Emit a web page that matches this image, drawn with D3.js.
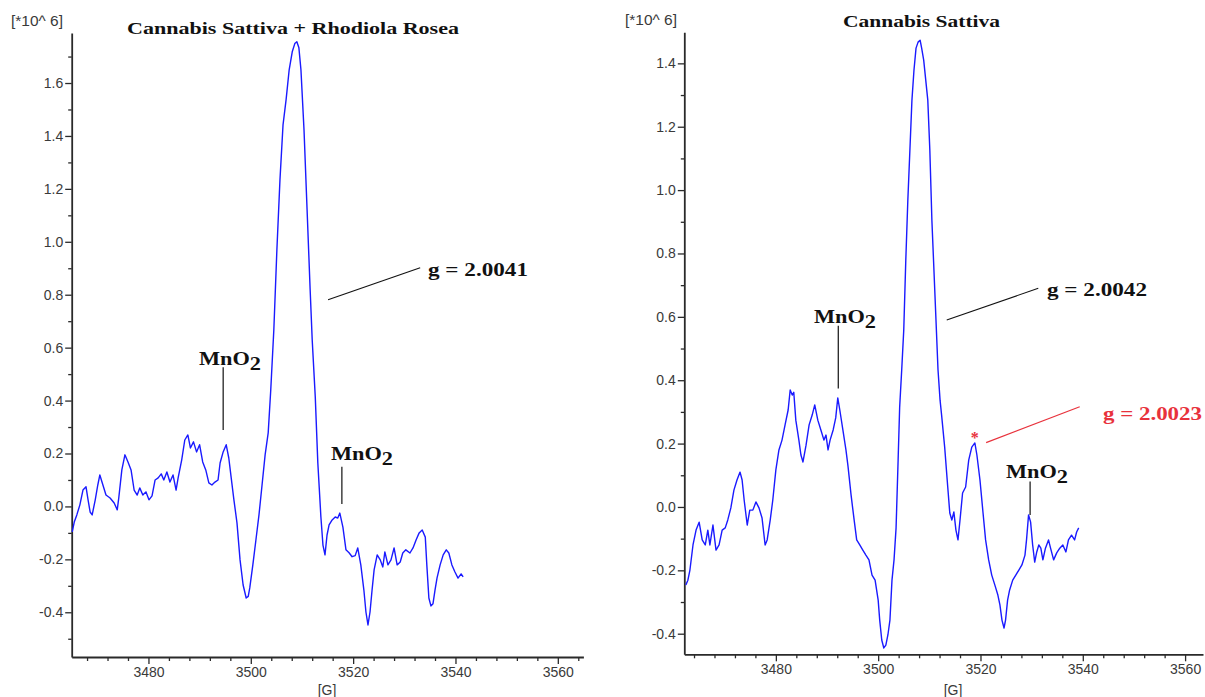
<!DOCTYPE html>
<html>
<head>
<meta charset="utf-8">
<script src="https://cdn.jsdelivr.net/npm/d3@7/dist/d3.min.js"></script>
<style>
  html, body { margin: 0; padding: 0; background: #ffffff; }
  svg { display: block; }
</style>
</head>
<body>
<svg id="chart" width="1205" height="697"></svg>
<script>
// ---------------- DATA ----------------
const leftTitle = "Cannabis Sattiva + Rhodiola Rosea";
const rightTitle = "Cannabis Sattiva";
const unitLabel = "[*10^ 6]";
const fieldLabel = "[G]";

const xMajorTicks = [3480, 3500, 3520, 3540, 3560];
const leftYTicks = [-0.4, -0.2, 0.0, 0.2, 0.4, 0.6, 0.8, 1.0, 1.2, 1.4, 1.6];
const leftYMinor = [-0.5, -0.3, -0.1, 0.1, 0.3, 0.5, 0.7, 0.9, 1.1, 1.3, 1.5, 1.7];
const rightYTicks = [-0.4, -0.2, 0.0, 0.2, 0.4, 0.6, 0.8, 1.0, 1.2, 1.4];
const rightYMinor = [-0.3, -0.1, 0.1, 0.3, 0.5, 0.7, 0.9, 1.1, 1.3];

// [field G, signal x10^6]  Cannabis Sattiva + Rhodiola Rosea
const leftSpectrum = [
[3465.1,-0.096],[3465.5,-0.059],[3466.0,-0.032],[3466.6,0.006],[3467.2,0.062],[3467.8,0.074],
[3468.2,0.025],[3468.6,-0.021],[3469.0,-0.032],[3469.6,0.025],[3470.1,0.081],[3470.5,0.119],
[3471.1,0.081],[3471.7,0.043],[3472.5,0.032],[3473.3,0.013],[3473.9,-0.013],[3474.2,0.032],
[3474.8,0.138],[3475.4,0.195],[3476.0,0.168],[3476.6,0.138],[3477.2,0.062],[3477.8,0.043],
[3478.3,0.070],[3478.9,0.043],[3479.5,0.055],[3480.1,0.025],[3480.7,0.040],[3481.3,0.100],
[3481.9,0.108],[3482.5,0.123],[3483.0,0.100],[3483.6,0.130],[3484.2,0.092],[3484.8,0.119],
[3485.4,0.062],[3485.8,0.108],[3486.5,0.176],[3487.1,0.251],[3487.7,0.270],[3488.2,0.221],
[3488.8,0.244],[3489.4,0.206],[3490.0,0.233],[3490.6,0.168],[3491.2,0.138],[3491.8,0.089],
[3492.4,0.081],[3493.0,0.092],[3493.6,0.100],[3494.0,0.164],[3494.6,0.206],[3495.2,0.233],
[3495.7,0.183],[3496.1,0.119],[3496.7,0.025],[3497.3,-0.062],[3497.9,-0.202],[3498.5,-0.297],
[3499.1,-0.346],[3499.5,-0.340],[3499.8,-0.308],[3500.4,-0.221],[3501.0,-0.127],[3501.6,-0.032],
[3502.2,0.081],[3502.8,0.195],[3503.4,0.278],[3503.9,0.440],[3504.5,0.667],[3505.1,0.970],
[3505.7,1.234],[3506.3,1.442],[3506.9,1.537],[3507.5,1.650],[3508.1,1.718],[3508.6,1.749],
[3509.0,1.756],[3509.4,1.733],[3509.8,1.650],[3510.4,1.423],[3511.0,1.121],[3511.6,0.819],
[3512.0,0.630],[3512.6,0.414],[3513.1,0.164],[3513.7,-0.040],[3514.1,-0.146],[3514.5,-0.183],
[3514.9,-0.108],[3515.3,-0.070],[3515.9,-0.051],[3516.5,-0.040],[3517.0,-0.044],[3517.4,-0.025],
[3518.0,-0.078],[3518.6,-0.164],[3519.2,-0.175],[3519.8,-0.190],[3520.4,-0.186],[3520.9,-0.157],
[3521.5,-0.221],[3522.1,-0.316],[3522.5,-0.399],[3522.9,-0.448],[3523.3,-0.399],[3523.7,-0.316],
[3524.1,-0.240],[3524.7,-0.183],[3525.3,-0.202],[3525.8,-0.229],[3526.2,-0.172],[3526.8,-0.221],
[3527.4,-0.202],[3528.0,-0.157],[3528.6,-0.221],[3529.2,-0.210],[3529.7,-0.176],[3530.3,-0.164],
[3531.1,-0.176],[3531.7,-0.157],[3532.3,-0.127],[3532.9,-0.100],[3533.5,-0.089],[3534.1,-0.116],
[3534.4,-0.221],[3534.8,-0.346],[3535.2,-0.376],[3535.6,-0.368],[3536.0,-0.316],[3536.4,-0.270],
[3537.0,-0.221],[3537.6,-0.183],[3538.2,-0.164],[3538.7,-0.176],[3539.3,-0.221],[3539.9,-0.248],
[3540.5,-0.271],[3541.1,-0.255],[3541.5,-0.266]
];

// [field G, signal x10^6]  Cannabis Sattiva
const rightSpectrum = [
[3462.4,-0.246],[3462.8,-0.231],[3463.2,-0.199],[3463.8,-0.120],[3464.4,-0.073],[3465.0,-0.048],
[3465.6,-0.104],[3466.2,-0.120],[3466.7,-0.073],[3467.1,-0.120],[3467.7,-0.057],[3468.3,-0.136],
[3468.9,-0.120],[3469.5,-0.073],[3470.1,-0.066],[3470.6,-0.041],[3471.2,-0.003],[3471.8,0.053],
[3472.4,0.085],[3473.0,0.110],[3473.4,0.085],[3473.8,0.022],[3474.4,-0.057],[3474.9,-0.010],
[3475.5,-0.010],[3476.1,0.016],[3476.7,-0.003],[3477.3,-0.035],[3477.9,-0.120],[3478.3,-0.104],
[3478.9,-0.041],[3479.4,0.022],[3480.0,0.117],[3480.6,0.180],[3481.2,0.211],[3481.8,0.259],
[3482.4,0.306],[3482.8,0.369],[3483.2,0.353],[3483.5,0.362],[3483.9,0.274],[3484.5,0.211],
[3484.9,0.164],[3485.3,0.142],[3485.9,0.195],[3486.5,0.259],[3487.1,0.290],[3487.6,0.322],
[3488.2,0.274],[3488.8,0.243],[3489.4,0.211],[3489.8,0.227],[3490.2,0.180],[3490.6,0.211],
[3491.2,0.243],[3491.7,0.281],[3492.1,0.344],[3492.5,0.306],[3493.1,0.243],[3493.7,0.180],
[3494.1,0.129],[3494.7,0.038],[3495.3,-0.041],[3495.8,-0.104],[3496.4,-0.120],[3497.0,-0.136],
[3497.6,-0.152],[3498.2,-0.167],[3498.8,-0.215],[3499.4,-0.231],[3500.0,-0.294],[3500.3,-0.357],
[3500.7,-0.420],[3501.1,-0.445],[3501.5,-0.436],[3501.9,-0.404],[3502.3,-0.357],[3502.7,-0.231],
[3503.1,-0.167],[3503.5,-0.066],[3503.9,0.148],[3504.2,0.315],[3504.6,0.432],[3505.0,0.558],
[3505.4,0.779],[3505.8,0.969],[3506.2,1.126],[3506.6,1.284],[3507.0,1.379],[3507.4,1.448],
[3507.8,1.467],[3508.2,1.473],[3508.5,1.448],[3508.9,1.410],[3509.3,1.347],[3509.7,1.284],
[3510.1,1.126],[3510.5,0.905],[3510.9,0.748],[3511.3,0.590],[3511.7,0.432],[3512.1,0.337],
[3512.4,0.290],[3513.0,0.189],[3513.6,0.063],[3514.0,-0.019],[3514.4,-0.041],[3514.8,-0.016],
[3515.2,-0.073],[3515.6,-0.104],[3516.0,-0.041],[3516.5,0.044],[3517.1,0.063],[3517.7,0.148],
[3518.3,0.189],[3518.9,0.202],[3519.3,0.164],[3519.9,0.085],[3520.5,-0.019],[3521.0,-0.104],
[3521.6,-0.167],[3522.2,-0.215],[3522.8,-0.246],[3523.4,-0.278],[3523.8,-0.309],[3524.2,-0.357],
[3524.6,-0.382],[3524.9,-0.357],[3525.3,-0.294],[3525.7,-0.262],[3526.3,-0.231],[3526.9,-0.215],
[3527.5,-0.199],[3528.1,-0.183],[3528.7,-0.152],[3529.0,-0.104],[3529.4,-0.025],[3529.8,-0.048],
[3530.2,-0.120],[3530.6,-0.174],[3531.0,-0.142],[3531.4,-0.120],[3531.8,-0.130],[3532.2,-0.167],
[3532.7,-0.130],[3533.3,-0.104],[3533.7,-0.130],[3534.3,-0.167],[3534.9,-0.145],[3535.5,-0.130],
[3536.1,-0.120],[3536.7,-0.142],[3537.2,-0.104],[3537.8,-0.089],[3538.4,-0.104],[3538.8,-0.079],
[3539.2,-0.066]
];

const leftGValue = "g = 2.0041";
const rightGValue = "g = 2.0042";
const radicalGValue = "g = 2.0023";
const mnLabel = "MnO";
const mnSub = "2";

// ---------------- DRAWING ----------------
const svg = d3.select("#chart");
const serif = "'Liberation Serif','Times New Roman',serif";
const sans = "'Liberation Sans',Arial,sans-serif";
const axisColor = "#2a2a2a";
const labelColor = "#3a3a3a";
const lineColor = "#1a1aff";
const red = "#e8323c";

function minorX(domain) {
  const out = [];
  for (let v = Math.ceil(domain[0] / 4) * 4; v <= domain[1]; v += 4) {
    if (v % 20 !== 0) out.push(v);
  }
  return out;
}

function drawPanel(p) {
  const x = d3.scaleLinear().domain(p.xDomain).range([p.left, p.right]);
  const y = d3.scaleLinear().domain(p.yDomain).range([p.bottom, p.top]);
  const g = svg.append("g");

  g.append("g").attr("transform", `translate(0,${p.bottom})`)
    .call(d3.axisBottom(x).tickValues(minorX(p.xDomain)).tickSize(4).tickFormat(""))
    .call(s => s.select(".domain").remove());
  g.append("g").attr("transform", `translate(${p.left},0)`)
    .call(d3.axisLeft(y).tickValues(p.yMinor).tickSize(3.5).tickFormat(""))
    .call(s => s.select(".domain").remove());

  g.append("g").attr("transform", `translate(0,${p.bottom})`)
    .call(d3.axisBottom(x).tickValues(xMajorTicks).tickSize(7).tickSizeOuter(0).tickPadding(3).tickFormat(d3.format("d")));
  g.append("g").attr("transform", `translate(${p.left},0)`)
    .call(d3.axisLeft(y).tickValues(p.yTicks).tickSize(6.5).tickSizeOuter(0).tickPadding(2).tickFormat(d => d.toFixed(1)));

  g.selectAll(".tick line").attr("stroke", axisColor).attr("stroke-width", 1.3);
  g.selectAll(".domain").attr("stroke", axisColor).attr("stroke-width", 1.8);
  g.selectAll(".tick text").attr("fill", labelColor).style("font-family", sans).style("font-size", "14px");

  g.append("text").attr("x", p.unitX).attr("y", p.unitY).text(unitLabel)
    .attr("textLength", 52).attr("lengthAdjust", "spacingAndGlyphs")
    .attr("fill", labelColor).style("font-family", sans).style("font-size", "14px");
  g.append("text").attr("x", p.gX).attr("y", 695).attr("text-anchor", "middle").text(fieldLabel)
    .attr("fill", labelColor).style("font-family", sans).style("font-size", "14px");

  g.append("text").attr("x", p.titleX).attr("y", p.titleY).text(p.title)
    .attr("textLength", p.titleW).attr("lengthAdjust", "spacingAndGlyphs")
    .attr("fill", "#111").style("font-family", serif).style("font-weight", "bold").style("font-size", "17px");

  const line = d3.line().x(d => x(d[0])).y(d => y(d[1]));
  g.append("path").datum(p.data).attr("d", line)
    .attr("fill", "none").attr("stroke", lineColor).attr("stroke-width", 1.4).attr("stroke-linejoin", "round");

  return { x, y, g };
}

function mno2(P, x0, baseline, field, vTop, vBottom) {
  const t = P.g.append("text").attr("x", x0).attr("y", baseline)
    .attr("textLength", 62).attr("lengthAdjust", "spacingAndGlyphs")
    .attr("fill", "#111").style("font-family", serif).style("font-weight", "bold").style("font-size", "19px");
  t.append("tspan").text(mnLabel);
  t.append("tspan").attr("dy", 5).text(mnSub);
  P.g.append("line").attr("x1", P.x(field)).attr("x2", P.x(field)).attr("y1", P.y(vTop)).attr("y2", P.y(vBottom))
    .attr("stroke", "#111").attr("stroke-width", 1.2);
}

function leader(P, a, b, color) {
  P.g.append("line").attr("x1", P.x(a[0])).attr("y1", P.y(a[1])).attr("x2", P.x(b[0])).attr("y2", P.y(b[1]))
    .attr("stroke", color).attr("stroke-width", 1.1);
}

function gLabel(P, text, x0, baseline, width, color) {
  P.g.append("text").attr("x", x0).attr("y", baseline).text(text)
    .attr("textLength", width).attr("lengthAdjust", "spacingAndGlyphs")
    .attr("fill", color).style("font-family", serif).style("font-weight", "bold").style("font-size", "18px");
}

const L = drawPanel({
  xDomain: [3465, 3565], yDomain: [-0.569, 1.789],
  left: 71.7, right: 583.4, top: 33, bottom: 657,
  yTicks: leftYTicks, yMinor: leftYMinor, data: leftSpectrum,
  title: leftTitle, titleX: 127, titleY: 34, titleW: 332,
  unitX: 11, unitY: 26, gX: 327
});
const R = drawPanel({
  xDomain: [3462.1, 3563.5], yDomain: [-0.465, 1.498],
  left: 684.3, right: 1203, top: 32.3, bottom: 654.3,
  yTicks: rightYTicks, yMinor: rightYMinor, data: rightSpectrum,
  title: rightTitle, titleX: 843, titleY: 27, titleW: 157,
  unitX: 625, unitY: 25, gX: 953
});

// Left annotations
leader(L, [3515.1, 0.781], [3533.1, 0.902], "#111");
gLabel(L, leftGValue, 428, 276, 100, "#111");
mno2(L, 199, 365, 3494.6, 0.526, 0.289);
mno2(L, 331, 460, 3517.8, 0.150, 0.009);

// Right annotations
leader(R, [3513.4, 0.590], [3531.3, 0.690], "#111");
gLabel(R, rightGValue, 1047, 296, 100, "#111");
mno2(R, 814, 323, 3492.2, 0.572, 0.374);
mno2(R, 1006, 478, 3529.7, 0.080, -0.025);
R.g.append("text").attr("x", R.x(3518.9)).attr("y", 443).attr("text-anchor", "middle").text("*")
  .attr("fill", red).style("font-family", serif).style("font-weight", "bold").style("font-size", "16px");
leader(R, [3521.1, 0.203], [3539.4, 0.316], red);
gLabel(R, radicalGValue, 1103, 420, 99, red);
</script>
</body>
</html>
